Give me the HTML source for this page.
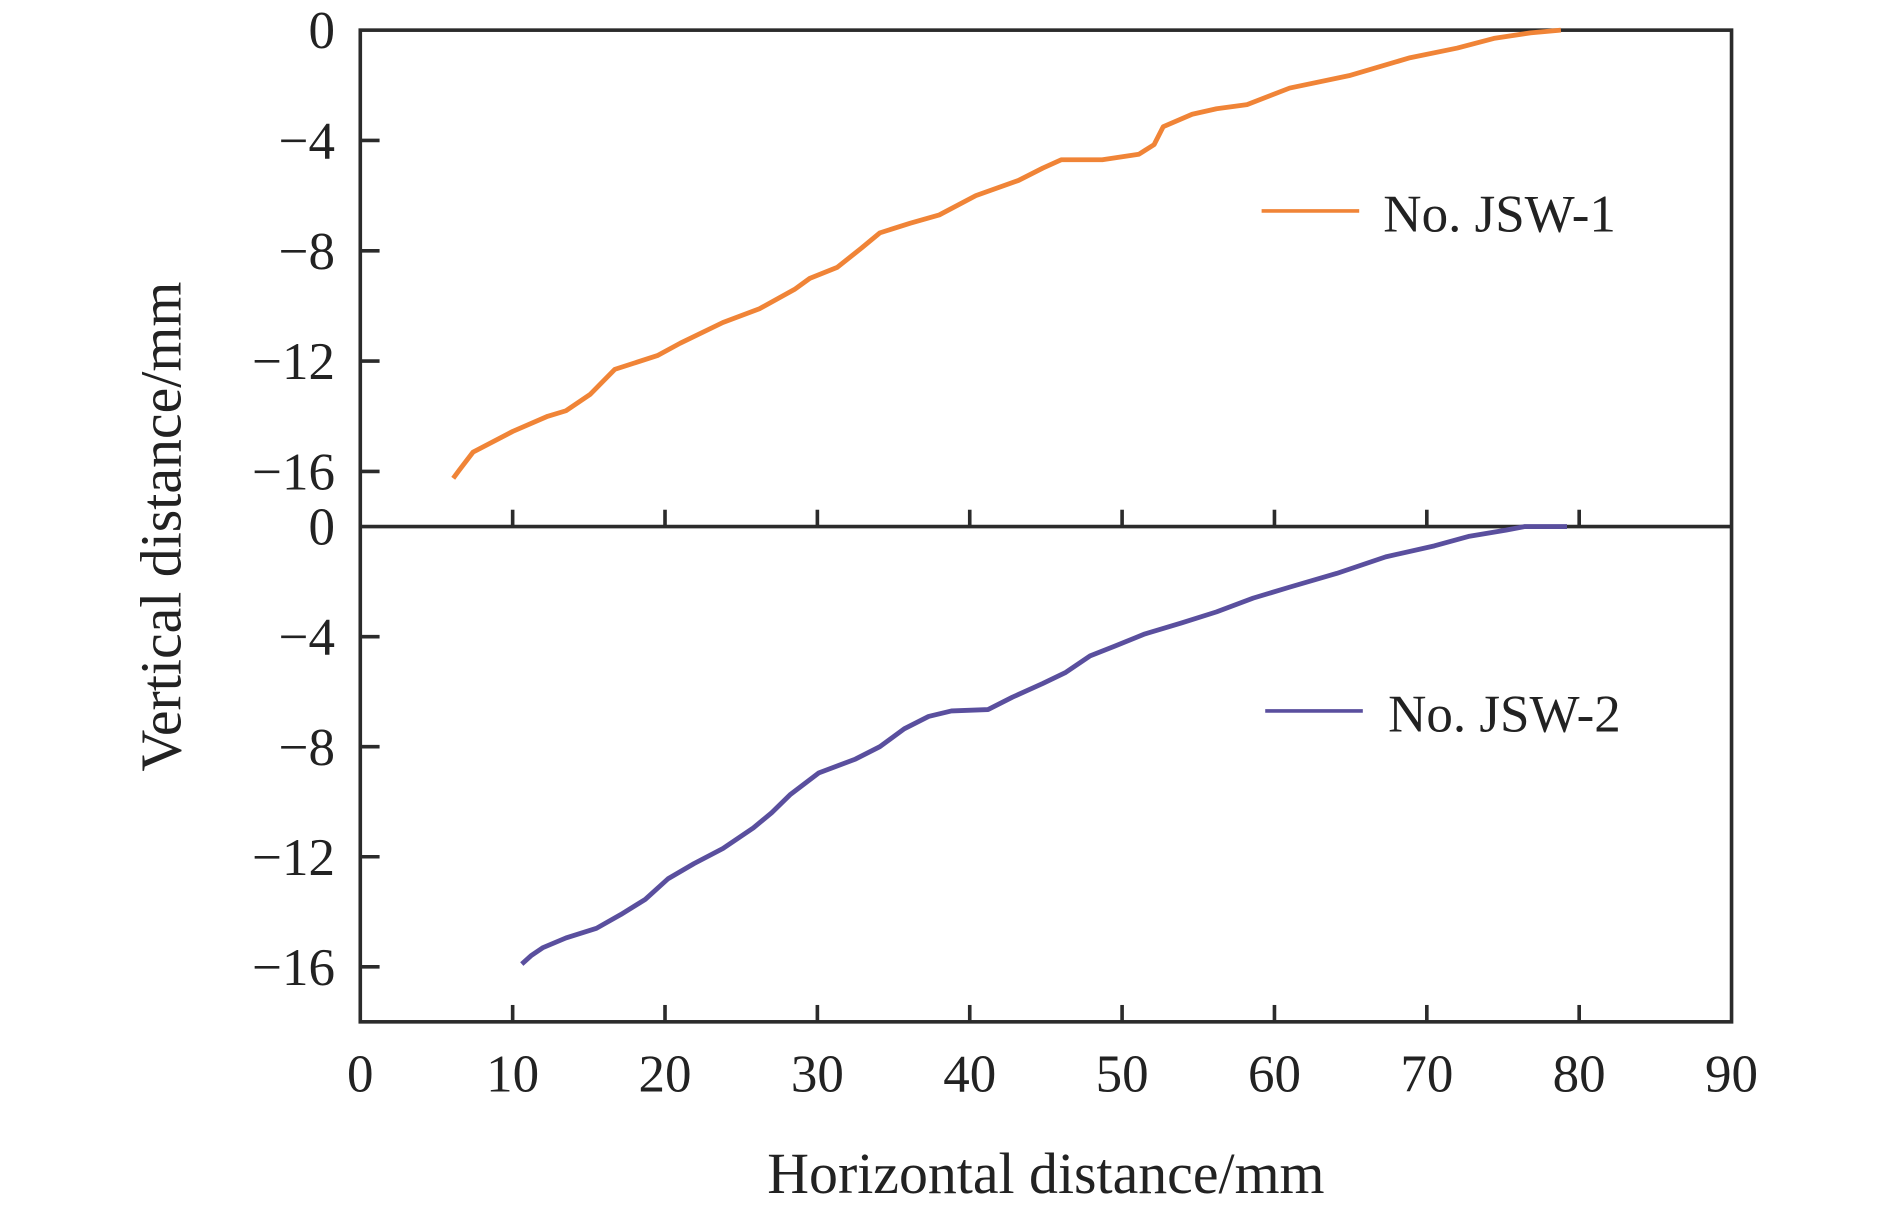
<!DOCTYPE html>
<html><head><meta charset="utf-8"><style>html,body{margin:0;padding:0;background:#fff}svg{display:block}</style></head>
<body>
<svg id="chart" width="1890" height="1212" viewBox="0 0 1568.5 1005.8" xmlns="http://www.w3.org/2000/svg" font-family="'Liberation Serif', serif"></svg>
<script>
const xTicks=[0,10,20,30,40,50,60,70,80,90];
const yTicks=[0,-4,-8,-12,-16];
const jsw1X=[6.1,6.5,7.4,10,12.3,13.5,15.1,16.7,19.5,21,23.8,26.2,28.5,29.5,31.3,32.9,34.1,36.1,38,40.4,43.2,44.8,46,48.7,51.1,52.1,52.7,54.6,56.2,58.2,61,64.9,68.9,72,74.4,76.8,78.8];
const jsw1Y=[-16.25,-15.95,-15.3,-14.55,-14,-13.8,-13.2,-12.3,-11.8,-11.35,-10.6,-10.1,-9.4,-9.0,-8.6,-7.9,-7.35,-7.0,-6.7,-6.0,-5.45,-5.0,-4.7,-4.7,-4.5,-4.15,-3.5,-3.05,-2.85,-2.7,-2.1,-1.65,-1.0,-0.65,-0.3,-0.1,0];
const jsw2X=[10.6,11.2,12,13.5,15.5,17.1,18.7,20.2,21.9,23.8,25.8,27,28.2,30.1,32.5,34.1,35.7,37.3,38.8,41.2,42.8,44.8,46.3,47.9,49.5,51.5,53.9,56.2,58.6,61,64.1,67.3,70.5,72.8,75.2,76.4,79.2];
const jsw2Y=[-15.9,-15.6,-15.3,-14.95,-14.6,-14.1,-13.55,-12.8,-12.25,-11.7,-10.95,-10.4,-9.75,-8.95,-8.45,-8.0,-7.35,-6.9,-6.7,-6.65,-6.2,-5.7,-5.3,-4.7,-4.35,-3.9,-3.5,-3.1,-2.6,-2.2,-1.7,-1.1,-0.7,-0.35,-0.13,0,0];

const L=299,R=1437,T=25,M=437,B=848;
const sx=v=>L+(v/90)*(R-L);
const syTop=v=>T+(-v/18)*(M-T);
const syBot=v=>M+(-v/18)*(B-M);
const svg=document.getElementById('chart');
const NS='http://www.w3.org/2000/svg';
function mk(tag,attrs,name,text){const e=document.createElementNS(NS,tag);for(const k in attrs)e.setAttribute(k,attrs[k]);


if(text!==undefined)e.textContent=text;svg.appendChild(e);return e;}
const AX='#2b2b2b';
// frames
mk('rect',{x:L,y:T,width:R-L,height:B-T,fill:'none',stroke:AX,'stroke-width':3},'plot-frame');
mk('line',{x1:L,y1:M,x2:R,y2:M,stroke:AX,'stroke-width':3},'panel-divider');
// x ticks
xTicks.forEach(v=>{const x=sx(v);
 if(v>0&&v<90){mk('line',{x1:x,y1:B,x2:x,y2:B-14,stroke:AX,'stroke-width':3},'x-tick');
 mk('line',{x1:x,y1:M,x2:x,y2:M-14,stroke:AX,'stroke-width':3},'x-tick-mid');}
 mk('text',{x:x,y:906,'text-anchor':'middle','font-size':44,fill:'#222'},'x-tick-label',String(v));});
// y ticks
[[syTop,'upper'],[syBot,'lower']].forEach(([f,p])=>{yTicks.forEach(v=>{const y=f(v);
 if(v!==0)mk('line',{x1:L,y1:y,x2:L+16,y2:y,stroke:AX,'stroke-width':3},'y-tick-'+p);
 mk('text',{x:278,y:y+15,'text-anchor':'end','font-size':44,fill:'#222'},'y-tick-label-'+p,v===0?'0':'\u2212'+Math.abs(v));});});
// titles
mk('text',{x:868,y:990,'text-anchor':'middle','font-size':48,fill:'#222'},'x-axis-title','Horizontal distance/mm');
mk('text',{x:150,y:437,'text-anchor':'middle','font-size':48,fill:'#222',transform:'rotate(-90 150 437)'},'y-axis-title','Vertical distance/mm');
// series
function line(xs,ys,f,color,name){mk('polyline',{points:xs.map((x,i)=>sx(x)+','+f(ys[i])).join(' '),fill:'none',stroke:color,'stroke-width':4,'stroke-linejoin':'round'},name);}
line(jsw1X,jsw1Y,syTop,'#f08437','series-jsw-1');
line(jsw2X,jsw2Y,syBot,'#5a4f9e','series-jsw-2');
// legends
mk('line',{x1:1047,y1:175,x2:1128,y2:175,stroke:'#f08437','stroke-width':3},'legend-swatch-jsw-1');
mk('text',{x:1148,y:192,'font-size':44,fill:'#222'},'legend-label-jsw-1','No. JSW-1');
mk('line',{x1:1050,y1:590,x2:1131,y2:590,stroke:'#5a4f9e','stroke-width':3},'legend-swatch-jsw-2');
mk('text',{x:1152,y:607,'font-size':44,fill:'#222'},'legend-label-jsw-2','No. JSW-2');
</script>
</body></html>
